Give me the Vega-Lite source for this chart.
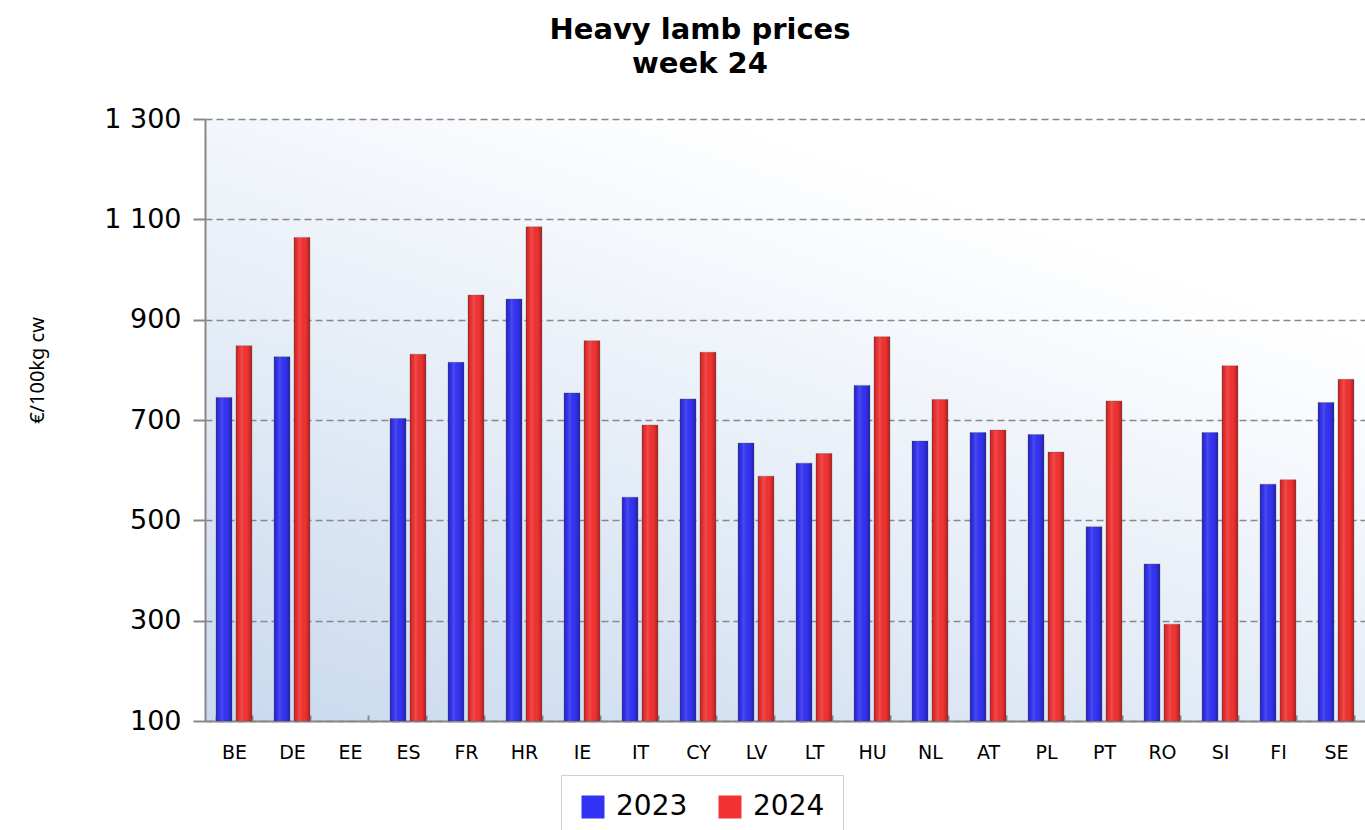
{
  "$schema": "https://vega.github.io/schema/vega-lite/v6.json",
  "width": 1160,
  "height": 602,
  "autosize": {"type": "none"},
  "padding": {"left": 205, "top": 119, "right": 0, "bottom": 109},
  "background": "white",
  "title": {
    "text": ["Heavy lamb prices", "week 24"],
    "font": "DejaVu Sans",
    "fontWeight": "bold",
    "fontSize": 29,
    "lineHeight": 34,
    "color": "black",
    "anchor": "middle",
    "dx": -85,
    "offset": 26
  },
  "data": {
    "values": [
      {"country": "BE", "year": "2023", "price": 745},
      {"country": "BE", "year": "2024", "price": 848},
      {"country": "DE", "year": "2023", "price": 826},
      {"country": "DE", "year": "2024", "price": 1064},
      {"country": "ES", "year": "2023", "price": 703},
      {"country": "ES", "year": "2024", "price": 831},
      {"country": "FR", "year": "2023", "price": 815},
      {"country": "FR", "year": "2024", "price": 949},
      {"country": "HR", "year": "2023", "price": 941},
      {"country": "HR", "year": "2024", "price": 1085},
      {"country": "IE", "year": "2023", "price": 754},
      {"country": "IE", "year": "2024", "price": 858},
      {"country": "IT", "year": "2023", "price": 546},
      {"country": "IT", "year": "2024", "price": 690},
      {"country": "CY", "year": "2023", "price": 742},
      {"country": "CY", "year": "2024", "price": 835},
      {"country": "LV", "year": "2023", "price": 654},
      {"country": "LV", "year": "2024", "price": 588},
      {"country": "LT", "year": "2023", "price": 614},
      {"country": "LT", "year": "2024", "price": 633},
      {"country": "HU", "year": "2023", "price": 769},
      {"country": "HU", "year": "2024", "price": 866},
      {"country": "NL", "year": "2023", "price": 658},
      {"country": "NL", "year": "2024", "price": 741},
      {"country": "AT", "year": "2023", "price": 675},
      {"country": "AT", "year": "2024", "price": 680},
      {"country": "PL", "year": "2023", "price": 671},
      {"country": "PL", "year": "2024", "price": 636},
      {"country": "PT", "year": "2023", "price": 487},
      {"country": "PT", "year": "2024", "price": 738},
      {"country": "RO", "year": "2023", "price": 413},
      {"country": "RO", "year": "2024", "price": 293},
      {"country": "SI", "year": "2023", "price": 675},
      {"country": "SI", "year": "2024", "price": 808},
      {"country": "FI", "year": "2023", "price": 572},
      {"country": "FI", "year": "2024", "price": 581},
      {"country": "SE", "year": "2023", "price": 735},
      {"country": "SE", "year": "2024", "price": 781}
    ]
  },
  "encoding": {
    "x": {
      "field": "country",
      "type": "nominal",
      "sort": null,
      "scale": {
        "domain": ["BE","DE","EE","ES","FR","HR","IE","IT","CY","LV","LT","HU","NL","AT","PL","PT","RO","SI","FI","SE"],
        "paddingInner": 0.38,
        "paddingOuter": 0.19
      },
      "axis": {
        "title": null,
        "labelAngle": 0,
        "labelFont": "DejaVu Sans",
        "labelFontSize": 19,
        "labelColor": "black",
        "labelPadding": 28,
        "tickBand": "extent",
        "tickSize": -6,
        "tickColor": "#888",
        "tickWidth": 2,
        "domainColor": "#888",
        "domainWidth": 2
      }
    },
    "xOffset": {
      "field": "year",
      "type": "nominal",
      "scale": {"paddingInner": 0.2}
    },
    "y": {
      "field": "price",
      "type": "quantitative",
      "scale": {"domain": [100, 1300], "nice": false, "zero": false},
      "axis": {
        "values": [100, 300, 500, 700, 900, 1100, 1300],
        "labelExpr": "replace(format(datum.value, ','), ',', ' ')",
        "labelFont": "DejaVu Sans",
        "labelFontSize": 27,
        "labelColor": "black",
        "labelPadding": 12,
        "tickColor": "#888",
        "tickSize": 12,
        "tickWidth": 2,
        "domainColor": "#888",
        "domainWidth": 2,
        "gridColor": "#888",
        "gridDash": [7, 4],
        "gridWidth": 1.5,
        "title": "€/100kg cw",
        "titleFont": "Noto Sans",
        "titleFontSize": 20,
        "titleFontWeight": "normal",
        "titleColor": "black",
        "titleAngle": -90,
        "titleX": -168,
        "titleY": 251,
        "titleAlign": "center",
        "titleBaseline": "middle"
      }
    },
    "y2": {"datum": 100}
  },
  "layer": [
    {
      "mark": {"type": "bar", "stroke": "#555", "strokeWidth": 0.5, "strokeOpacity": 0.6},
      "encoding": {
        "color": {
          "field": "year",
          "type": "nominal",
          "scale": {"domain": ["2023", "2024"], "range": ["#3232f2", "#f23232"]},
          "legend": {
            "title": null,
            "orient": "none",
            "direction": "horizontal",
            "legendX": 356,
            "legendY": 656,
            "symbolType": "square",
            "symbolSize": 529,
            "symbolStrokeWidth": 0,
            "labelFont": "DejaVu Sans",
            "labelFontSize": 28,
            "labelColor": "black",
            "labelOffset": 9,
            "columnPadding": 28,
            "padding": 18,
            "fillColor": "white",
            "strokeColor": "#d0d0d0"
          }
        }
      }
    },
    {
      "mark": {
        "type": "bar",
        "fill": {
          "gradient": "linear",
          "x1": 0, "y1": 0, "x2": 1, "y2": 0,
          "stops": [
            {"offset": 0, "color": "rgba(0,0,0,0.28)"},
            {"offset": 0.15, "color": "rgba(0,0,0,0.05)"},
            {"offset": 0.35, "color": "rgba(255,255,255,0.12)"},
            {"offset": 0.7, "color": "rgba(0,0,0,0.0)"},
            {"offset": 1, "color": "rgba(0,0,0,0.3)"}
          ]
        }
      }
    }
  ],
  "config": {
    "view": {
      "stroke": null,
      "fill": {
        "gradient": "linear",
        "x1": 0, "y1": 1, "x2": 0.6, "y2": 0.1,
        "stops": [
          {"offset": 0, "color": "#c9d9ee"},
          {"offset": 1, "color": "#ffffff"}
        ]
      }
    }
  }
}
